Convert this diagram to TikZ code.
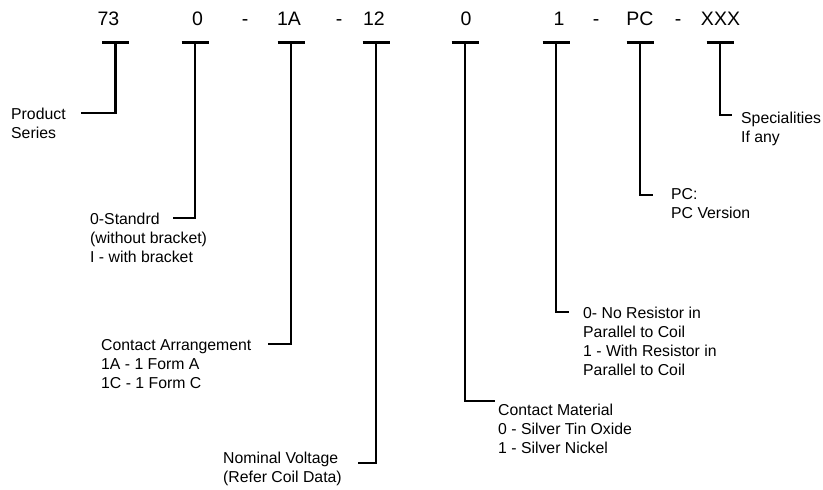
\documentclass[tikz,border=0pt]{standalone}
\usepackage{fontspec}
\setmainfont{Liberation Sans}
\begin{document}
\begin{tikzpicture}[x=1pt,y=-1pt,
  code/.style={inner sep=0pt,anchor=base,font=\fontsize{19.5}{22}\selectfont},
  lbl/.style={inner sep=0pt,anchor=base west,align=left,font=\fontsize{15.8}{19}\selectfont},
  lead/.style={line width=2.8pt,line join=miter}]
\useasboundingbox (0,0) rectangle (823,490);
% code characters
\node[code] (c1) at (108.5,25) {73};
\node[code] (c2) at (197.5,25) {0};
\node[code] (d1) at (245,25) {-};
\node[code] (c3) at (289,25) {1A};
\node[code] (d2) at (339,25) {-};
\node[code] (c4) at (374,25) {12};
\node[code] (c5) at (466,25) {0};
\node[code] (c6) at (559,25) {1};
\node[code] (d3) at (596,25) {-};
\node[code] (c7) at (640,25) {PC};
\node[code] (d4) at (678,25) {-};
\node[code] (c8) at (720.5,25) {XXX};
% labels (anchor = baseline of last line)
\node[lbl] (l1) at (11,138) {Product\\Series};
\node[lbl] (l2) at (90,262.5) {0-Standrd\\(without bracket)\\I - with bracket};
\node[lbl] (l3) at (101,388.5) {Contact Arrangement\\1A - 1 Form A\\1C - 1 Form C};
\node[lbl] (l4) at (223,482.5) {Nominal Voltage\\(Refer Coil Data)};
\node[lbl] (l5) at (498,453.5) {Contact Material\\0 - Silver Tin Oxide\\1 - Silver Nickel};
\node[lbl] (l6) at (583,375.5) {0- No Resistor in\\Parallel to Coil\\1 - With Resistor in\\Parallel to Coil};
\node[lbl] (l7) at (671,218) {PC:\\PC Version};
\node[lbl] (l8) at (741,142.5) {Specialities\\If any};
% T tops
\foreach \i/\x in {1/115.5,2/195,3/291,4/376,5/465,6/556,7/640,8/720}{
  \coordinate (t\i) at (\x,42.5);
  \coordinate (tl\i) at (\x-13.5,42.5);
  \coordinate (tr\i) at (\x+13.5,42.5);
  \draw[lead] (tl\i) -- (tr\i);
}
% leader ends
\coordinate (e1) at (81,113);
\coordinate (e2) at (173,218);
\coordinate (e3) at (268,344);
\coordinate (e4) at (358,463);
\coordinate (e5) at (495,401);
\coordinate (e6) at (569,312);
\coordinate (e7) at (653,195);
\coordinate (e8) at (732,115);
\foreach \i in {1,...,8}{
  \draw[lead] (t\i) |- (e\i);
}
\end{tikzpicture}
\end{document}
